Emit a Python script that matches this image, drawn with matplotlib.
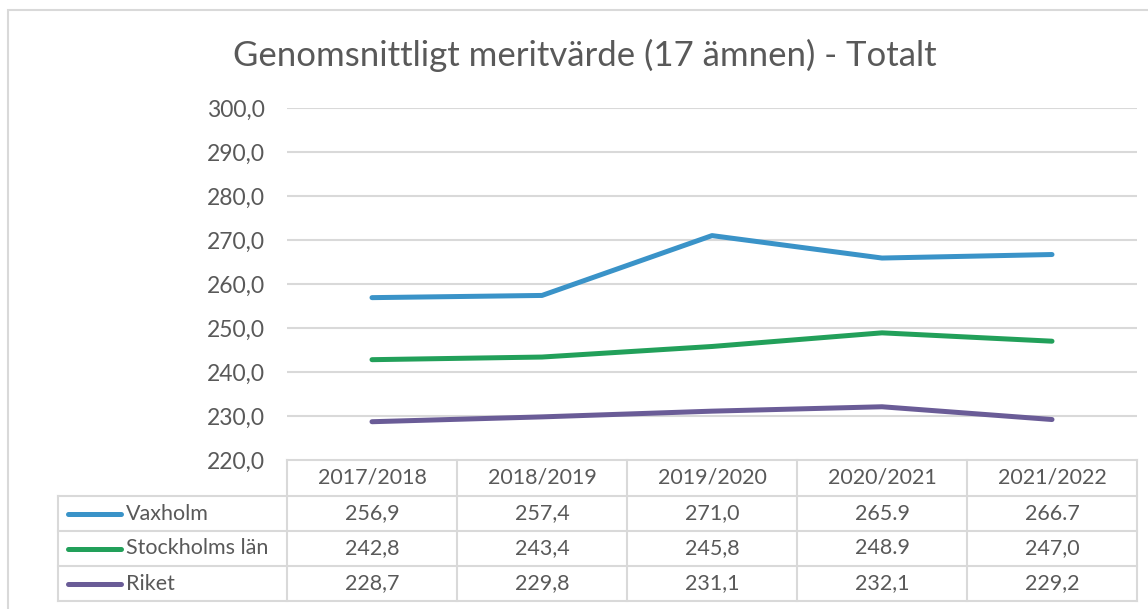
import matplotlib
matplotlib.use("Agg")
import matplotlib.pyplot as plt
from matplotlib.patches import Rectangle
from matplotlib.transforms import blended_transform_factory

# Data as shown in the chart's table (kept as printed, mixed decimal signs)
years = ['2017/2018', '2018/2019', '2019/2020', '2020/2021', '2021/2022']
vaxholm = ['256,9', '257,4', '271,0', '265.9', '266.7']
stockholm = ['242,8', '243,4', '245,8', '248.9', '247,0']
riket = ['228,7', '229,8', '231,1', '232,1', '229,2']
series_names = ['Vaxholm', 'Stockholms län', 'Riket']
colors = ['#3A93C8', '#22A05A', '#6A5C97']
yticks = [220, 230, 240, 250, 260, 270, 280, 290, 300]

def to_num(labels):
    return [float(s.replace(',', '.')) for s in labels]

plt.rcParams['font.family'] = ['Lato', 'DejaVu Sans']
txt_color = '#595959'
grid_color = '#D9D9D9'

W, H = 1148, 609
fig = plt.figure(figsize=(W / 100, H / 100), dpi=100)

# axes in pixel layout
left, right, top, bottom = 287, 1137, 108, 460
ax = fig.add_axes([left / W, 1 - bottom / H, (right - left) / W, (bottom - top) / H])

x = list(range(len(years)))
for vals, c in zip([vaxholm, stockholm, riket], colors):
    ax.plot(x, to_num(vals), color=c, lw=3.6, solid_capstyle='round', zorder=3)

ax.set_xlim(-0.5, len(years) - 0.5)
ax.set_ylim(yticks[0], yticks[-1])
ax.set_yticks(yticks)
ax.set_yticklabels([f'{v:.1f}'.replace('.', ',') for v in yticks])
ax.set_xticks([])
ax.tick_params(axis='y', length=0, pad=16, labelsize=16.5, labelcolor=txt_color)
for s in ax.spines.values():
    s.set_visible(False)
for v in yticks[1:]:
    ax.axhline(v, color=grid_color, lw=1.5, zorder=1)

# data table below the plot
tr = blended_transform_factory(ax.transData, ax.transAxes)
ah = bottom - top
px_per_unit = (right - left) / len(years)

def ya(py):
    return (bottom - py) / ah

def xd(px):
    return -0.5 + (px - left) / px_per_unit

row_y = [460, 496, 531, 566, 601]
lab_left = xd(58)
tab_right = len(years) - 0.5
kw = dict(color=grid_color, lw=1.5, transform=tr, clip_on=False, zorder=2)

# horizontal lines
ax.plot([-0.5, tab_right], [ya(row_y[0])] * 2, **kw)
for py in row_y[1:]:
    ax.plot([lab_left, tab_right], [ya(py)] * 2, **kw)
# vertical lines
ax.plot([lab_left, lab_left], [ya(row_y[1]), ya(row_y[-1])], **kw)
for i in range(len(years) + 1):
    ax.plot([i - 0.5, i - 0.5], [ya(row_y[0]), ya(row_y[-1])], **kw)

fs = 15.5
for i, yr in enumerate(years):
    ax.text(i, ya((row_y[0] + row_y[1]) / 2), yr, transform=tr, ha='center',
            va='center', fontsize=fs, color=txt_color)

for r, (name, vals, c) in enumerate(zip(series_names, [vaxholm, stockholm, riket], colors)):
    yc = ya((row_y[r + 1] + row_y[r + 2]) / 2)
    ax.plot([xd(68), xd(121)], [yc, yc], color=c, lw=3.6, solid_capstyle='round',
            transform=tr, clip_on=False)
    ax.text(xd(126), yc, name, transform=tr, ha='left', va='center',
            fontsize=fs, color=txt_color)
    for i, v in enumerate(vals):
        ax.text(i, yc, v, transform=tr, ha='center', va='center',
                fontsize=fs, color=txt_color)

# title
fig.text(585 / W, 1 - 55 / H, 'Genomsnittligt meritvärde (17 ämnen) - Totalt',
         ha='center', va='center', fontsize=25, color=txt_color)

# chart area border
fig.patches.append(Rectangle((8 / W, -0.05), 1.2, 1 - 10 / H + 0.05,
                             transform=fig.transFigure, fill=False,
                             edgecolor=grid_color, lw=1.5))

fig.savefig('out.png', dpi=100)
